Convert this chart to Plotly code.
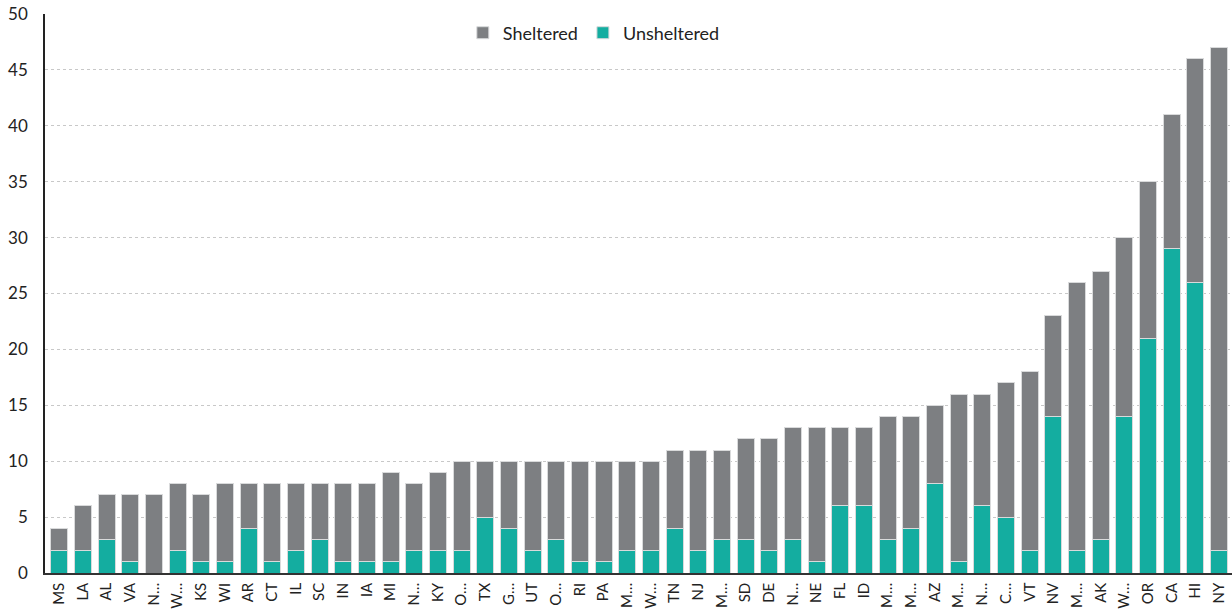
import plotly.graph_objects as go

states = ["MS", "LA", "AL", "VA", "N…", "W…", "KS", "WI", "AR", "CT", "IL", "SC", "IN", "IA", "MI",
          "N…", "KY", "O…", "TX", "G…", "UT", "O…", "RI", "PA", "M…", "W…", "TN", "NJ", "M…", "SD",
          "DE", "N…", "NE", "FL", "ID", "M…", "M…", "AZ", "M…", "N…", "C…", "VT", "NV", "M…", "AK",
          "W…", "OR", "CA", "HI", "NY"]
totals = [4, 6, 7, 7, 7, 8, 7, 8, 8, 8, 8, 8, 8, 8, 9,
          8, 9, 10, 10, 10, 10, 10, 10, 10, 10, 10, 11, 11, 11, 12,
          12, 13, 13, 13, 13, 14, 14, 15, 16, 16, 17, 18, 23, 26, 27,
          30, 35, 41, 46, 47]
unsheltered = [2, 2, 3, 1, 0, 2, 1, 1, 4, 1, 2, 3, 1, 1, 1,
               2, 2, 2, 5, 4, 2, 3, 1, 1, 2, 2, 4, 2, 3, 3,
               2, 3, 1, 6, 6, 3, 4, 8, 1, 6, 5, 2, 14, 2, 3,
               14, 21, 29, 26, 2]
sheltered = [t - u for t, u in zip(totals, unsheltered)]
pos = list(range(len(states)))

GRAY = "#7d7f82"
TEAL = "#14ada0"

fig = go.Figure()
fig.add_trace(go.Bar(x=pos, y=unsheltered, name="Unsheltered", marker_color=TEAL,
                     marker_line=dict(color="#d9dadb", width=1)))
fig.add_trace(go.Bar(x=pos, y=sheltered, name="Sheltered", marker_color=GRAY,
                     marker_line=dict(color="#d9dadb", width=1)))

fig.update_layout(
    barmode="stack",
    bargap=0.28,
    width=1232, height=609,
    margin=dict(l=45, r=0, t=14, b=36),
    plot_bgcolor="white", paper_bgcolor="white",
    font=dict(family="Lato, sans-serif", size=17, color="#222222"),
    legend=dict(orientation="h", traceorder="reversed", x=0.352, xanchor="left",
                y=0.966, yanchor="middle", font=dict(size=18), bgcolor="rgba(0,0,0,0)"),
    showlegend=True,
)
fig.update_xaxes(
    tickmode="array", tickvals=pos, ticktext=states, tickangle=-90,
    range=[-0.6, len(states) - 0.45],
    showline=True, linecolor="#333333", linewidth=1.5,
    showgrid=False, ticks="", automargin=False, ticklabelstandoff=2,
    tickfont=dict(size=15),
)
fig.update_yaxes(
    range=[0, 50], dtick=5,
    showline=True, linecolor="#222222", linewidth=1.5,
    showgrid=True, gridcolor="#c8c8c8", griddash="dot", gridwidth=1,
    zeroline=False, ticks="", ticklabelstandoff=12, automargin=False,
    tickfont=dict(size=17),
)

fig.write_html("out.html", config={"displayModeBar": False},
               post_script="document.body.style.margin='0';")
